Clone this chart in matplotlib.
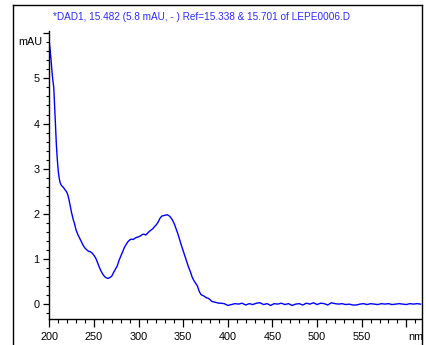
import matplotlib
matplotlib.use("Agg")
import matplotlib.pyplot as plt
from matplotlib.lines import Line2D
from matplotlib.ticker import MultipleLocator

wavelength = [200, 201, 202, 203, 204, 205, 206, 207, 208, 209, 210, 211, 212, 213, 214, 215,
              216, 217, 218, 219, 220, 221, 222, 223, 224, 225, 226, 227, 228, 229, 230,
              232, 234, 236, 238, 240, 242, 244, 246, 248, 250, 252, 254, 256, 258, 260,
              262, 264, 266, 268, 270, 272, 274, 276, 278, 280, 282, 284, 286, 288, 290,
              292, 294, 296, 298, 300, 302, 304, 306, 308, 310, 312, 314, 316, 318, 320,
              322, 324, 326, 328, 330, 332, 334, 336, 338, 340, 342, 344, 346, 348, 350,
              352, 354, 356, 358, 360, 362, 364, 366, 368, 370, 372, 374, 376, 378, 380,
              382, 384, 386, 388, 390,
              392, 396, 400, 404, 408, 412, 416, 420, 424, 428, 432, 436, 440, 444, 448,
              452, 456, 460, 464, 468, 472, 476, 480, 484, 488, 492, 496, 500, 504, 508,
              512, 516, 520, 524, 528, 532, 536, 540, 544, 548, 552, 556, 560, 564, 568,
              572, 576, 580, 584, 588, 592, 596, 600, 604, 608, 612, 616]
absorbance = [5.80, 5.62, 5.40, 5.15, 4.95, 4.80, 4.35, 3.95, 3.50, 3.20, 2.95, 2.80, 2.70, 2.65, 2.62, 2.60,
              2.58, 2.55, 2.52, 2.50, 2.46, 2.40, 2.32, 2.22, 2.12, 2.02, 1.94, 1.86, 1.80, 1.72, 1.64,
              1.54, 1.46, 1.38, 1.30, 1.24, 1.20, 1.17, 1.16, 1.13, 1.08, 1.02, 0.92, 0.82, 0.73, 0.66,
              0.61, 0.58, 0.57, 0.59, 0.62, 0.70, 0.77, 0.84, 0.96, 1.06, 1.15, 1.25, 1.32, 1.38, 1.42,
              1.44, 1.43, 1.46, 1.48, 1.49, 1.51, 1.54, 1.55, 1.53, 1.57, 1.61, 1.64, 1.67, 1.72, 1.76,
              1.82, 1.90, 1.95, 1.96, 1.97, 1.98, 1.96, 1.92, 1.86, 1.78, 1.67, 1.56, 1.43, 1.30, 1.18,
              1.06, 0.94, 0.82, 0.72, 0.60, 0.52, 0.46, 0.40, 0.28, 0.21, 0.19, 0.17, 0.14, 0.13, 0.10,
              0.06, 0.05, 0.04, 0.03, 0.02,
              0.02, 0.01, -0.03, -0.01, 0.01, 0.00, 0.02, -0.02, 0.01, -0.01, 0.02, 0.03, -0.01, 0.01, -0.03,
              0.01, 0.00, 0.02, -0.01, 0.01, -0.03, 0.00, 0.01, -0.02, 0.02, 0.00, 0.03, -0.01, 0.02, 0.01,
              -0.02, 0.03, 0.01, 0.00, 0.01, -0.01, 0.00, -0.02, -0.02, 0.00, 0.01, -0.01, 0.01, 0.00, -0.01,
              0.01, 0.00, 0.01, -0.01, 0.00, 0.01, 0.00, -0.01, 0.01, 0.00, 0.01, 0.00]

x_ticks = [200, 250, 300, 350, 400, 450, 500, 550]
x_tick_labels = ["200", "250", "300", "350", "400", "450", "500", "550"]
y_ticks = [0, 1, 2, 3, 4, 5]
y_tick_labels = ["0", "1", "2", "3", "4", "5"]
title = "*DAD1, 15.482 (5.8 mAU, - ) Ref=15.338 & 15.701 of LEPE0006.D"
y_unit = "mAU"
x_unit = "nm"

FONT = ["Liberation Sans", "DejaVu Sans"]
plt.rcParams["font.family"] = FONT

W, H = 426, 345
fig = plt.figure(figsize=(W / 100, H / 100), dpi=100)
fig.patch.set_facecolor("white")

ax = fig.add_axes([49.3 / W, 26 / H, (421.5 - 49.3) / W, (319 - 31) / H])
ax.plot(wavelength, absorbance, color="#0000ff", lw=1.0)
ax.set_xlim(200, 617)
ax.set_ylim(-0.33, 6.05)

for s in ["top", "right"]:
    ax.spines[s].set_visible(False)
for s in ["left", "bottom"]:
    ax.spines[s].set_linewidth(1.0)
    ax.spines[s].set_color("black")

ax.set_xticks(x_ticks + [600])
ax.set_xticklabels(x_tick_labels + [""])
ax.set_yticks(y_ticks + [6])
ax.set_yticklabels(y_tick_labels + [""])
ax.xaxis.set_minor_locator(MultipleLocator(10))
ax.yaxis.set_minor_locator(MultipleLocator(0.2))
ax.tick_params(axis="x", which="major", length=5.5, width=0.9, pad=4, labelsize=7.8, direction="out")
ax.tick_params(axis="x", which="minor", length=3, width=0.8, direction="out")
ax.tick_params(axis="y", which="major", length=4, width=0.9, pad=3, labelsize=7.8, direction="out")
ax.tick_params(axis="y", which="minor", length=2.5, width=0.8, direction="out")

fig.text(42 / W, 1 - 42 / H, y_unit, ha="right", va="center", fontsize=7.8, family=FONT)
fig.text(408 / W, 1 - 337 / H, x_unit, ha="left", va="center", fontsize=7.8, family=FONT)
fig.text(53 / W, 1 - 17 / H, title, ha="left", va="center", fontsize=7.2,
         color="#2b2bff", family=FONT)

# outer frame
fig.add_artist(Line2D([13 / W, 421.5 / W], [1 - 5 / H, 1 - 5 / H], color="black", lw=1.0))
fig.add_artist(Line2D([13 / W, 13 / W], [0, 1 - 5 / H], color="black", lw=1.0))
fig.add_artist(Line2D([421.5 / W, 421.5 / W], [0, 1 - 5 / H], color="black", lw=1.0))

fig.savefig("out.png", dpi=100, facecolor="white")
